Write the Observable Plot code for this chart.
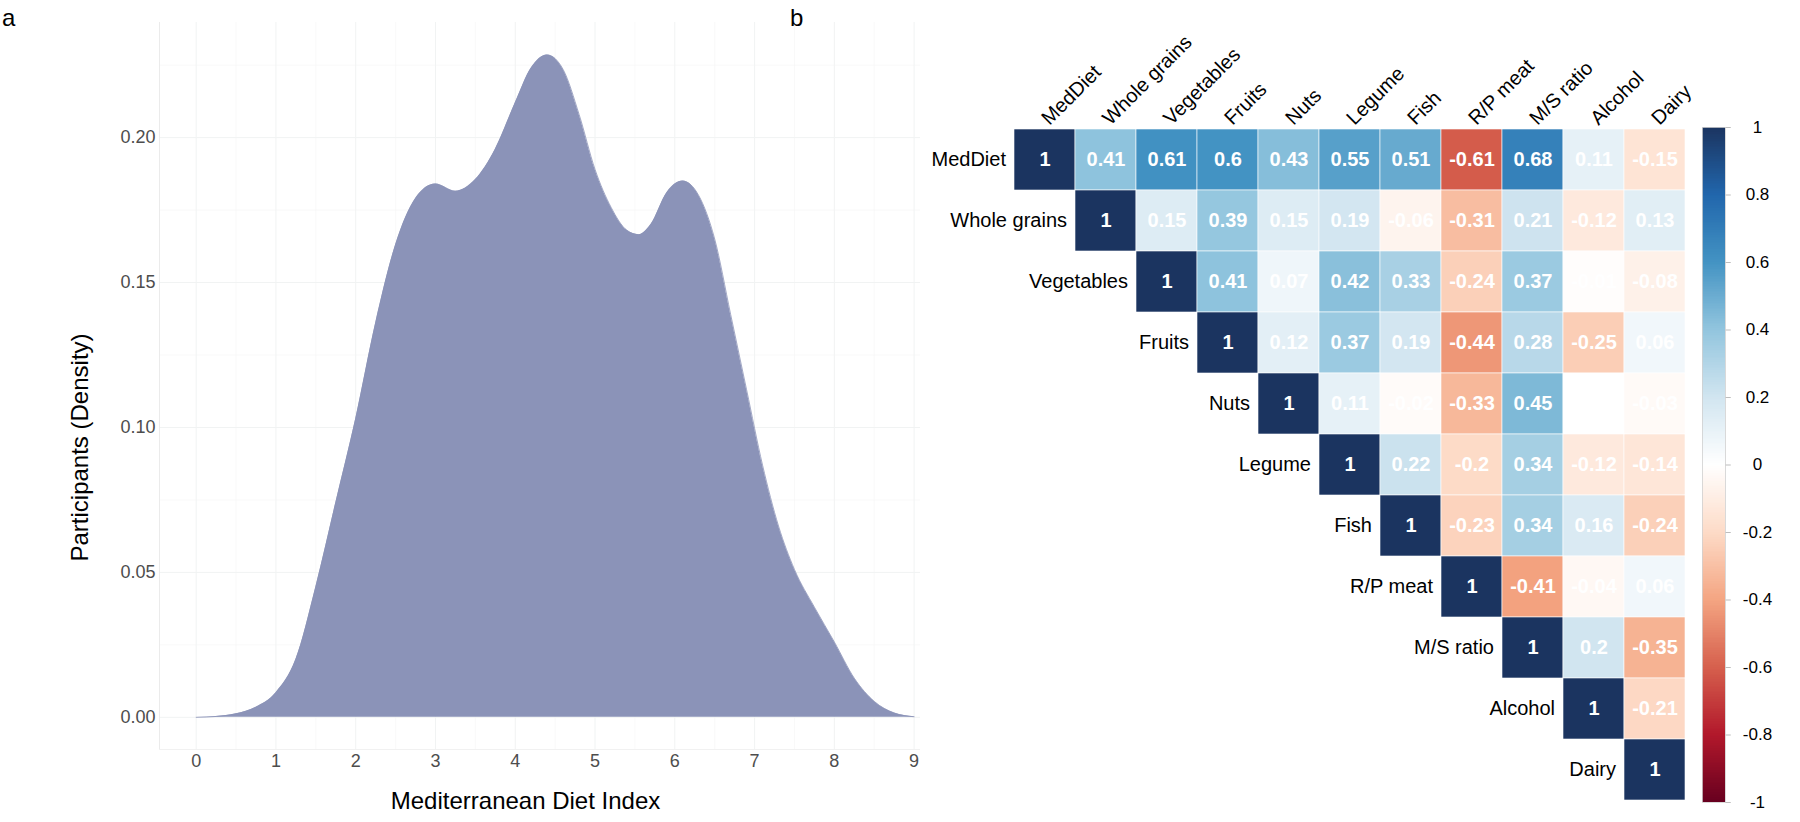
<!DOCTYPE html>
<html>
<head>
<meta charset="utf-8">
<script src="https://cdn.jsdelivr.net/npm/d3@7"></script>
<script src="https://cdn.jsdelivr.net/npm/@observablehq/plot@0.6"></script>
<style>
  body { margin: 0; background: #fff; font-family: "Liberation Sans", Arial, Helvetica, sans-serif; }
  #root { position: relative; width: 1800px; height: 822px; overflow: hidden; background: #fff; }
  .pl { position: absolute; font-size: 24px; line-height: 1; color: #000; font-family: "Liberation Sans", Arial, sans-serif; }
  .holder { position: absolute; top: 0; }
</style>
</head>
<body>
<div id="root">
  <div id="left" class="holder" style="left:0px"></div>
  <div id="heat" class="holder" style="left:920px"></div>
  <div id="bar" class="holder" style="left:1690px"></div>
  <div class="pl" style="left:2px;top:6px">a</div>
  <div class="pl" style="left:790px;top:6px">b</div>
</div>
<script>
// ---------- Panel a: density of the Mediterranean Diet Index ----------
const dietIndex = [0, 0.25, 0.5, 0.75, 1.0, 1.25, 1.5, 1.75, 2.0, 2.25, 2.5, 2.75, 3.0, 3.25, 3.5, 3.75, 4.0, 4.2, 4.4, 4.6, 4.8, 5.0, 5.2, 5.4, 5.55, 5.7, 5.9, 6.1, 6.3, 6.5, 6.7, 6.9, 7.1, 7.3, 7.5, 7.75, 8.0, 8.25, 8.5, 8.75, 9.0];
const densityValues = [0.0000, 0.0003, 0.0012, 0.0035, 0.0085, 0.020, 0.045, 0.074, 0.103, 0.136, 0.163, 0.179, 0.184, 0.1815, 0.1855, 0.196, 0.212, 0.224, 0.2285, 0.2235, 0.208, 0.189, 0.176, 0.168, 0.1665, 0.170, 0.181, 0.185, 0.180, 0.165, 0.139, 0.113, 0.087, 0.066, 0.051, 0.038, 0.026, 0.0135, 0.0055, 0.0015, 0.0002];
const xTicks = [0, 1, 2, 3, 4, 5, 6, 7, 8, 9];
const xMinor = [0.5, 1.5, 2.5, 3.5, 4.5, 5.5, 6.5, 7.5, 8.5];
const yTicks = [0, 0.05, 0.10, 0.15, 0.20];
const yMinor = [0.025, 0.075, 0.125, 0.175, 0.225];
const xDomain = [-0.46, 9.08];
const yDomain = [-0.0111, 0.2397];

// ---------- Panel b: correlation matrix (upper triangle, each row starts at the diagonal) ----------
const variables = ["MedDiet", "Whole grains", "Vegetables", "Fruits", "Nuts", "Legume", "Fish", "R/P meat", "M/S ratio", "Alcohol", "Dairy"];
const rowMedDiet     = [1, 0.41, 0.61, 0.6, 0.43, 0.55, 0.51, -0.61, 0.68, 0.11, -0.15];
const rowWholeGrains = [1, 0.15, 0.39, 0.15, 0.19, -0.06, -0.31, 0.21, -0.12, 0.13];
const rowVegetables  = [1, 0.41, 0.07, 0.42, 0.33, -0.24, 0.37, -0.01, -0.08];
const rowFruits      = [1, 0.12, 0.37, 0.19, -0.44, 0.28, -0.25, 0.06];
const rowNuts        = [1, 0.11, -0.02, -0.33, 0.45, 0, -0.03];
const rowLegume      = [1, 0.22, -0.2, 0.34, -0.12, -0.14];
const rowFish        = [1, -0.23, 0.34, 0.16, -0.24];
const rowRPMeat      = [1, -0.41, -0.04, 0.06];
const rowMSRatio     = [1, 0.2, -0.35];
const rowAlcohol     = [1, -0.21];
const rowDairy       = [1];
const colorbarTicks = [1, 0.8, 0.6, 0.4, 0.2, 0, -0.2, -0.4, -0.6, -0.8, -1];
const paletteStops  = [-1, -0.8, -0.6, -0.4, -0.2, 0, 0.2, 0.4, 0.6, 0.8, 1];
const paletteColors = ["#67001F", "#B2182B", "#D6604D", "#F4A582", "#FDDBC7", "#FFFFFF", "#D1E5F0", "#92C5DE", "#4393C3", "#2166AC", "#1b3460"];

const FONT = '"Liberation Sans", Arial, Helvetica, sans-serif';

// ---- build tables ----
const density = dietIndex.map((t, i) => ({t, d: densityValues[i]}));
const corrRows = [rowMedDiet, rowWholeGrains, rowVegetables, rowFruits, rowNuts, rowLegume, rowFish, rowRPMeat, rowMSRatio, rowAlcohol, rowDairy];
const cells = [];
corrRows.forEach((vals, i) => vals.forEach((v, k) => cells.push({row: variables[i], col: variables[i + k], value: v})));

const colorScale = {type: "linear", domain: paletteStops, range: paletteColors, clamp: true};

// ---- Panel a ----
const left = Plot.plot({
  width: 920, height: 822,
  marginLeft: 159, marginRight: 0, marginTop: 22, marginBottom: 73,
  style: {background: "transparent", fontFamily: FONT, overflow: "visible"},
  x: {domain: xDomain},
  y: {domain: yDomain},
  marks: [
    Plot.gridX(xMinor, {stroke: "#f6f7f7", strokeOpacity: 1, strokeWidth: 0.7}),
    Plot.gridY(yMinor, {stroke: "#f6f7f7", strokeOpacity: 1, strokeWidth: 0.7}),
    Plot.gridX(xTicks, {stroke: "#f1f3f3", strokeOpacity: 1, strokeWidth: 1}),
    Plot.gridY(yTicks, {stroke: "#f1f3f3", strokeOpacity: 1, strokeWidth: 1}),
    Plot.ruleX([xDomain[0]], {stroke: "#ebebeb", strokeWidth: 1}),
    Plot.ruleY([yDomain[0]], {stroke: "#f1f1f1", strokeWidth: 1}),
    Plot.areaY(density, {x: "t", y: "d", fill: "#8b93b8", curve: "monotone-x"}),
    Plot.lineY(density, {x: "t", y: "d", stroke: "#8b93b8", strokeWidth: 0.8, curve: "monotone-x"}),
    Plot.axisX(xTicks, {tickSize: 0, tickPadding: 5, fontSize: 18, color: "#4d4d4d", label: null}),
    Plot.axisY(yTicks, {tickSize: 0, tickPadding: 4, fontSize: 18, color: "#4d4d4d", tickFormat: d3.format(".2f"), label: null}),
    Plot.text(["Mediterranean Diet Index"], {frameAnchor: "bottom", dx: -14.5, dy: 52, fontSize: 24, fill: "#000", textAnchor: "middle", lineAnchor: "middle"}),
    Plot.text(["Participants (Density)"], {frameAnchor: "left", dx: -79, dy: 61.5, rotate: -90, fontSize: 24, fill: "#000", textAnchor: "middle", lineAnchor: "middle"})
  ]
});
document.getElementById("left").appendChild(left);

// ---- Panel b: heatmap ----
const heat = Plot.plot({
  width: 880, height: 822,
  marginLeft: 90, marginRight: 111, marginTop: 127, marginBottom: 20,
  style: {background: "transparent", fontFamily: FONT, overflow: "visible", fontSize: "20px"},
  x: {type: "band", domain: variables, padding: 0},
  y: {type: "band", domain: variables, padding: 0, axis: null},
  color: colorScale,
  marks: [
    Plot.cell(cells, {x: "col", y: "row", fill: "value", stroke: "white", strokeWidth: 0.6, inset: 0}),
    Plot.text(cells, {x: "col", y: "row", text: d => String(d.value), fill: "white", fontWeight: "bold", fontSize: 20}),
    Plot.text(variables, {x: d => d, y: d => d, text: d => d, textAnchor: "end", dx: -39, fontSize: 20, fill: "#000"}),
    Plot.axisX({anchor: "top", tickSize: 0, tickPadding: 6, tickRotate: -45, fontSize: 20, label: null, color: "#000"})
  ]
});
document.getElementById("heat").appendChild(heat);

// ---- Colorbar ----
const rampSteps = d3.range(-1, 1, 0.005);
const bar = Plot.plot({
  width: 110, height: 822,
  marginLeft: 12, marginRight: 75, marginTop: 127, marginBottom: 20,
  style: {background: "transparent", fontFamily: FONT, overflow: "visible"},
  x: {domain: [0, 1], axis: null},
  y: {domain: [-1, 1], axis: null},
  color: colorScale,
  marks: [
    Plot.rect(rampSteps, {x1: 0, x2: 1, y1: d => d, y2: d => d + 0.0062, fill: d => d + 0.0025, inset: 0, shapeRendering: "crispEdges"}),
    Plot.ruleY(colorbarTicks, {x1: 1, x2: 1.25, stroke: "#bdbdbd", strokeWidth: 1}),
    Plot.frame({stroke: "#d0d0d0", strokeWidth: 0.8}),
    Plot.text(colorbarTicks, {x: 1, y: d => d, text: d => String(d), dx: 32, textAnchor: "middle", fontSize: 17, fill: "#000"})
  ]
});
document.getElementById("bar").appendChild(bar);
</script>
</body>
</html>
